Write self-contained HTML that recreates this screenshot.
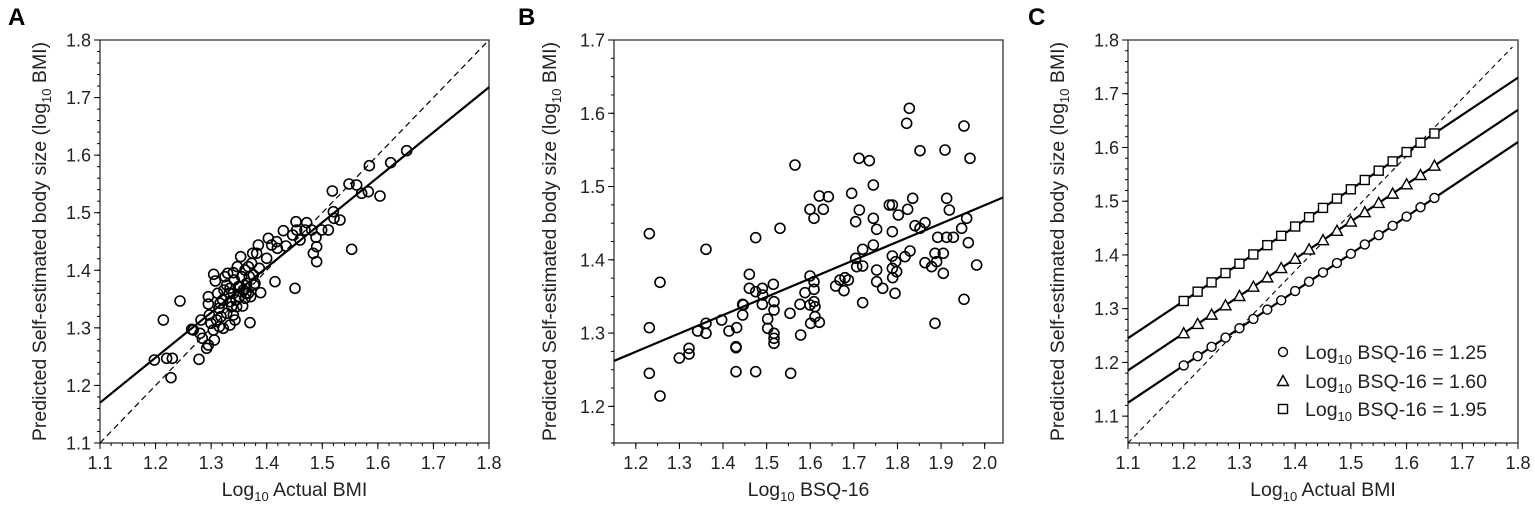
<!DOCTYPE html>
<html><head><meta charset="utf-8"><style>
body{margin:0;background:#fff}
svg{display:block;font-family:"Liberation Sans",Arial,sans-serif}
</style></head><body>
<svg id="s" width="1535" height="507" viewBox="0 0 1535 507" xmlns="http://www.w3.org/2000/svg">
<rect width="1535" height="507" fill="#fff"/>
<text x="8" y="25" font-size="24" font-weight="bold">A</text>
<text x="518" y="25" font-size="24" font-weight="bold">B</text>
<text x="1028" y="25" font-size="24" font-weight="bold">C</text>
<g id="g"></g>
</svg>
<script>
var NS="http://www.w3.org/2000/svg",G=document.getElementById('g');
function el(t,a,txt){var e=document.createElementNS(NS,t);for(var k in a)e.setAttribute(k,a[k]);if(txt!==undefined)e.textContent=txt;G.appendChild(e);return e;}
function ln(x1,y1,x2,y2,w,da){var a={x1:x1,y1:y1,x2:x2,y2:y2,stroke:'#000','stroke-width':w||1};if(da)a['stroke-dasharray']=da;el('line',a);}
function panel(P){
  var X=function(v){return P.l+(v-P.x0)/(P.x1-P.x0)*(P.r-P.l)},Y=function(v){return P.b-(v-P.y0)/(P.y1-P.y0)*(P.b-P.t)};
  P.X=X;P.Y=Y;
  el('rect',{x:P.l,y:P.t,width:P.r-P.l,height:P.b-P.t,fill:'none',stroke:'#333','stroke-width':1.3});
  var v;
  for(v=P.xm0;v<=P.x1+1e-9;v+=P.xms)ln(X(v),P.b,X(v),P.b+3,1);
  for(v=P.ym0;v<=P.y1+1e-9;v+=P.yms)ln(P.l,Y(v),P.l-3,Y(v),1);
  P.xt.forEach(function(v){ln(X(v),P.b,X(v),P.b+6,1);el('text',{x:X(v),y:P.b+26,'font-size':18,'text-anchor':'middle',fill:'#222'},v.toFixed(1));});
  P.yt.forEach(function(v){ln(P.l,Y(v),P.l-6,Y(v),1);el('text',{x:P.l-9,y:Y(v)+6.5,'font-size':18,'text-anchor':'end',fill:'#222'},v.toFixed(1));});
  var cx=(P.l+P.r)/2;
  var t=el('text',{x:cx,y:496,'font-size':19.5,'text-anchor':'middle',fill:'#222'});
  t.innerHTML='Log<tspan font-size="13" dy="5">10</tspan><tspan dy="-5"> '+P.xl+'</tspan>';
  var cy=(P.t+P.b)/2;
  var t2=el('text',{x:0,y:0,'font-size':19.5,'text-anchor':'middle',fill:'#222',transform:'translate('+P.yx+','+cy+') rotate(-90)'});
  t2.innerHTML='Predicted Self-estimated body size (log<tspan font-size="13" dy="5">10</tspan><tspan dy="-5"> BMI)</tspan>';
}
var A={l:100,r:489,t:40,b:443,x0:1.1,x1:1.8,y0:1.1,y1:1.8,xm0:1.1,xms:0.02,ym0:1.1,yms:0.02,xt:[1.1,1.2,1.3,1.4,1.5,1.6,1.7,1.8],yt:[1.1,1.2,1.3,1.4,1.5,1.6,1.7,1.8],xl:'Actual BMI',yx:46};
panel(A);
ln(A.X(1.1),A.Y(1.1),A.X(1.8),A.Y(1.8),1.2,'6,4');
ln(A.X(1.1),A.Y(1.17),A.X(1.8),A.Y(1.718),2.2);
var pa=[[463,1080],[490,960],[500,1075],[517,1075],[513,1133],[540,903],[575,988],[580,990],[597,1078],[600,1000],[603,960],[607,1015],[620,1045],[625,1035],[625,890],[625,912],[628,945],[633,970],[643,1020],[641,823],[646,843],[653,880],[657,925],[658,980],[663,950],[668,900],[670,985],[675,830],[680,855],[683,820],[688,880],[690,975],[695,920],[700,945],[700,818],[703,840],[705,960],[708,900],[712,800],[715,860],[718,890],[722,770],[725,830],[728,918],[730,870],[735,810],[738,880],[740,850],[745,800],[748,830],[750,968],[752,890],[755,790],[758,760],[762,855],[765,850],[770,760],[775,735],[778,805],[782,878],[800,775],[805,715],[815,735],[825,845],[830,725],[832,745],[850,692],[858,738],[878,705],[885,865],[888,665],[890,690],[900,720],[915,690],[920,668],[935,690],[940,760],[948,712],[950,740],[950,785],[965,690],[985,690],[997,573],[1000,635],[1002,655],[1020,660],[1047,552],[1055,748],[1070,555],[1085,580],[1105,575],[1108,497],[1140,588],[1172,488],[1220,452],[660,910],[690,905],[710,920],[735,895],[680,940],[700,880],[720,860],[650,960],[640,990],[745,880],[760,825],[690,865],[672,870]];
pa.forEach(function(p){el('circle',{cx:p[0]/3,cy:p[1]/3,r:5,fill:'none',stroke:'#000','stroke-width':1.6});});

var B={l:614,r:1003,t:40,b:443,x0:1.15,x1:2.042,y0:1.15,y1:1.7,xm0:1.15,xms:0.05,ym0:1.15,yms:0.025,xt:[1.2,1.3,1.4,1.5,1.6,1.7,1.8,1.9,2.0],yt:[1.2,1.3,1.4,1.5,1.6,1.7],xl:'BSQ-16',yx:556};
panel(B);
ln(B.X(1.15),B.Y(1.262),B.X(2.042),B.Y(1.485),2.2);
var pb=[[418,701],[418,983],[418,1120],[450,847],[450,1188],[508,1074],[537,1045],[537,1062],[563,993],[588,748],[588,970],[588,1000],[635,960],[657,993],[680,983],[678,1040],[678,1043],[678,1115],[698,913],[698,945],[700,915],[718,823],[718,865],[737,713],[737,875],[737,1115],[757,865],[757,913],[758,885],[773,957],[773,985],[790,853],[792,905],[792,930],[792,1000],[792,1015],[792,1030],[810,685],[840,940],[842,1120],[855,495],[870,913],[872,1005],[885,878],[900,628],[900,828],[900,915],[902,970],[912,655],[912,845],[912,868],[912,905],[915,920],[915,950],[928,967],[928,588],[940,628],[955,590],[977,858],[990,840],[1002,872],[1005,833],[1015,840],[1025,580],[1037,665],[1037,775],[1040,800],[1047,475],[1048,630],[1058,748],[1058,798],[1058,908],[1078,482],[1090,555],[1090,655],[1090,735],[1100,688],[1100,810],[1100,845],[1118,865],[1138,615],[1147,615],[1147,695],[1147,768],[1147,805],[1148,833],[1155,880],[1157,785],[1160,815],[1165,645],[1185,770],[1190,370],[1193,628],[1198,325],[1200,753],[1208,595],[1215,677],[1230,452],[1230,685],[1245,668],[1245,788],[1265,800],[1275,970],[1275,760],[1280,785],[1283,712],[1300,760],[1300,820],[1305,450],[1310,595],[1310,712],[1318,630],[1330,712],[1355,685],[1362,898],[1362,378],[1370,655],[1375,728],[1380,475],[1400,795]];
pb.forEach(function(p){el('circle',{cx:510+p[0]/3,cy:p[1]/3,r:5,fill:'none',stroke:'#000','stroke-width':1.6});});

var C={l:1128,r:1518,t:40,b:443,x0:1.1,x1:1.8,y0:1.05,y1:1.8,xm0:1.1,xms:0.02,ym0:1.06,yms:0.02,xt:[1.1,1.2,1.3,1.4,1.5,1.6,1.7,1.8],yt:[1.1,1.2,1.3,1.4,1.5,1.6,1.7,1.8],xl:'Actual BMI',yx:1064};
panel(C);
ln(C.X(1.1),C.Y(1.05),C.X(1.79),C.Y(1.787),1.1,'5,4');
var lines=[[1.125,1.61,'c'],[1.185,1.67,'t'],[1.245,1.73,'s']];
function mk(type,x,y){
  if(type=='c')el('circle',{cx:x,cy:y,r:4.5,fill:'#fff',stroke:'#000','stroke-width':1.4});
  else if(type=='t')el('polygon',{points:(x-5.5)+','+(y+4.5)+' '+(x+5.5)+','+(y+4.5)+' '+x+','+(y-5.5),fill:'#fff',stroke:'#000','stroke-width':1.4});
  else el('rect',{x:x-4.5,y:y-4.5,width:9,height:9,fill:'#fff',stroke:'#000','stroke-width':1.4});
}
lines.forEach(function(L){
  ln(C.X(1.1),C.Y(L[0]),C.X(1.8),C.Y(L[1]),2.2);
  var s=(L[1]-L[0])/0.7;
  for(var i=0;i<19;i++){var xv=1.2+i*0.025;mk(L[2],C.X(xv),C.Y(L[0]+s*(xv-1.1)));}
});
var leg=[['c',352,'1.25'],['t',381,'1.60'],['s',409,'1.95']];
leg.forEach(function(L){mk(L[0],1283,L[1]);var t=el('text',{x:1305,y:L[1]+7,'font-size':19.5,fill:'#222'});
t.innerHTML='Log<tspan font-size="13" dy="5">10</tspan><tspan dy="-5"> BSQ-16 = '+L[2]+'</tspan>';});
</script>
</body></html>
